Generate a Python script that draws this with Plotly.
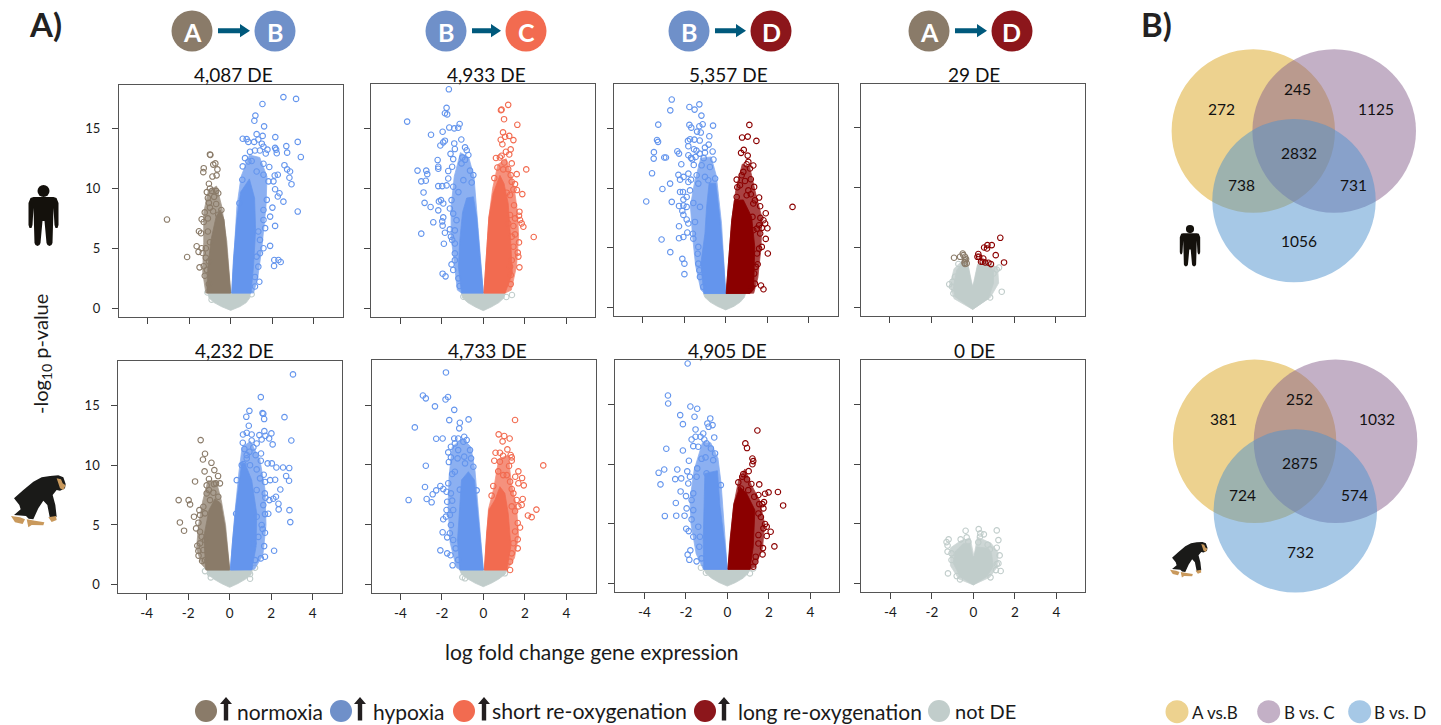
import plotly.graph_objects as go

# ---------- chart values (log fold change, -log10 p) ----------
h_ab_left = [(-3.07,7.4),(-2.1,4.27),(-1.64,5.17),(-1.53,6.42),(-1.43,6.26),(-1.4,7.43),(-1.32,11.37),(-1.3,11.7),(-1.0,12.85),(-.98,12.8),(-.74,12.1),(-.84,12.0),(-.64,11.6),(-.68,11.1),(-.88,11.0),(-1.05,10.4),(-1.0,10.0),(-1.15,9.7),(-.9,9.8),(-.7,9.8),(-.6,9.6),(-1.1,9.2),(-.8,9.3),(-1.05,8.8),(-.7,8.7),(-1.25,8.0),(-1.0,8.4),(-.85,8.1),(-.45,8.2),(-.6,7.8),(-1.3,7.2),(-1.1,7.5),(-1.4,5.0),(-1.55,4.7),(-1.35,4.6),(-1.5,3.4),(-1.3,3.5),(-1.2,4.2),(-1.25,2.7),(-1.05,2.0),(-1.15,3.2),(-1.0,5.5),(-1.1,6.4),(-1.2,5.0),(-1.05,3.9)]
h_ab_left_core = [(0,1.25),(-.19,5.1),(-.32,7.4),(-.51,8.2),(-.7,7.65),(-.95,5.7),(-1.1,3.46),(-1.15,1.25)]
h_ab_left_halo = [(0,1.25),(-.19,5.6),(-.43,8.5),(-.68,10.2),(-1.08,9.8),(-1.3,8),(-1.3,5.5),(-1.35,3),(-1.2,1.25)]
h_ab_right = [(2.54,17.65),(3.15,17.5),(1.53,17.07),(1.19,16.1),(1.14,15.67),(1.61,15.2),(1.25,14.55),(1.54,14.4),(2.15,14.3),(.58,14.16),(.77,14.13),(.85,13.9),(1.13,13.9),(1.33,14.1),(3.23,13.9),(2.68,13.55),(2.14,13.4),(2.19,13.25),(1.58,13.5),(1.5,13.75),(1.77,13.25),(2.72,13.0),(3.38,12.63),(2.22,12.95),(1.69,12.93),(.93,13.07),(1.17,13.18),(1.41,13.18),(.69,12.54),(.85,12.26),(1.01,12.3),(.58,11.85),(1.58,12.07),(1.86,11.8),(2.59,11.95),(2.72,11.6),(2.86,11.42),(2.83,10.9),(2.93,10.36),(2.12,11.09),(2.27,11.15),(2.06,10.6),(1.82,10.6),(1.58,11.15),(1.25,11.42),(.56,10.73),(2.14,9.94),(2.35,9.6),(2.27,9.33),(2.54,8.9),(3.23,8.07),(2.01,8.4),(1.9,7.65),(2.14,6.87),(1.66,6.68),(1.9,5.2),(2.1,4.02),(2.3,4.02),(2.41,3.85),(2.09,3.52),(1.38,2.2),(1.17,1.8),(1.33,3.46),(1.41,4.58),(1.58,5),(1.41,5.7),(1.33,6.4),(1.58,7.37),(1.58,8.2),(1.74,9.05),(1.25,4.3),(1.17,2.6),(.42,8.77)]
h_ab_right_core = [(.05,1.25),(.13,4),(.3,7.5),(.48,9.7),(.9,10.8),(1.15,9.2),(1.2,6.5),(1.1,3.5),(.98,1.25)]
h_ab_right_halo = [(.05,1.25),(.3,8.5),(.5,11),(.9,12.8),(1.4,12.6),(1.75,11),(1.7,8.5),(1.5,5),(1.3,2.5),(1.1,1.25)]
h_ab_grey = [(-1.12,1.3),(-.92,.7),(1.01,1.15)]
h_ab_grey_core = [(-1.1,1.3),(-1.05,.85),(-.8,.45),(-.45,.12),(0,-.2),(.45,.12),(.75,.45),(.92,.85),(.95,1.3)]

h_bc_left = [(-1.66,18.3),(-3.67,15.6),(-1.77,16.75),(-1.85,16.3),(-1.74,16.2),(-1.64,15.1),(-1.4,15.03),(-1.21,15.08),(-1.14,15.4),(-2.52,14.5),(-1.96,14.75),(-1.85,14.0),(-1.93,13.86),(-2.07,13.6),(-1.4,13.77),(-1.06,14.1),(-1.37,13.3),(-.88,13.44),(-.8,13.2),(-1.58,12.9),(-1.45,12.46),(-1.01,12.6),(-.72,12.8),(-2.2,12.38),(-2.17,11.82),(-2.17,11.65),(-3.17,11.5),(-2.75,11.5),(-2.7,11.2),(-2.99,10.6),(-2.77,10.65),(-1.69,11.46),(-1.5,11.82),(-1.69,10.84),(-2.17,10.2),(-1.98,10.2),(-1.77,10.26),(-2.88,9.67),(-2.83,8.8),(-2.54,8.45),(-2.14,8.92),(-2.04,9.03),(-1.93,8.75),(-2.17,8.17),(-2.41,7.17),(-1.93,7.58),(-1.98,7.25),(-1.96,6.89),(-2.99,6.22),(-1.85,6.3),(-1.61,6.58),(-1.56,5.97),(-1.9,5.38),(-1.37,5.4),(-1.37,4.57),(-1.37,4.0),(-1.53,3.65),(-1.45,3.18),(-1.96,2.87),(-1.82,2.65),(-1.2,2.48),(-1.14,1.84),(-.88,12.4),(-.48,11.12),(-.56,10.5),(-.64,11.5),(-1.45,10.15),(-1.2,9.7),(-1.53,9.03),(-1.45,7.9),(-1.29,7.35),(-1.61,8.33),(-1.05,12.1),(-.96,10.7),(-1.37,6.5),(-1.5,5.7)]
h_bc_left_core = [(0,1.25),(-1.05,1.25),(-1.2,3.45),(-1.13,5.7),(-1,8),(-.8,9.2),(-.48,9.3),(-.32,7.6),(-.16,4.3)]
h_bc_left_halo = [(0,1.25),(-.3,7.6),(-.45,11),(-.7,12.6),(-1.1,13),(-1.4,11),(-1.55,8.5),(-1.55,6),(-1.4,3.5),(-1.25,1.5),(-1.05,1.25)]
h_bc_right = [(1.2,17.0),(.88,16.6),(.85,16.55),(1.0,15.8),(1.64,15.33),(.95,14.7),(1.05,14.33),(1.25,14.4),(.84,14.08),(1.45,14.05),(.92,13.7),(1.32,13.27),(1.09,13.07),(1.25,12.85),(.88,12.74),(.61,12.55),(.8,12.6),(1.01,12.18),(1.37,12.1),(.68,11.76),(.96,11.6),(1.2,11.62),(2.07,11.6),(1.61,11.2),(1.32,11.12),(.53,10.87),(1.37,10.56),(1.53,10.37),(1.45,9.92),(1.62,9.87),(1.88,9.53),(1.13,9.65),(1.29,9.45),(1.48,8.6),(1.74,8.06),(1.72,7.72),(1.29,7.78),(1.53,7.5),(1.77,7.36),(1.85,7.08),(1.93,6.8),(1.45,6.86),(1.2,7.08),(2.43,5.94),(1.53,6.16),(1.72,5.49),(1.37,5.97),(1.45,5.13),(1.66,4.63),(1.69,4.3),(1.74,3.4),(1.37,4),(1.32,2.76),(1.32,2.0),(1.29,3.46)]
h_bc_right_core = [(.03,1.25),(.16,4.6),(.27,7.6),(.48,9.6),(.8,11.1),(1.0,10.4),(1.2,8.75),(1.3,6.25),(1.4,2.9),(1.05,1.25)]
h_bc_right_halo = [(.03,1.25),(.27,7.6),(.45,10),(.7,12),(1.1,12.5),(1.45,10.5),(1.65,8),(1.7,6),(1.6,3.5),(1.35,1.5),(1.05,1.25)]
h_bc_grey = [(-.96,.95),(1.38,1.09),(1.11,.92)]
h_bc_grey_core = [(-1.05,1.3),(-1.0,.85),(-.75,.45),(-.4,.1),(0,-.22),(.4,.1),(.75,.45),(1.0,.85),(1.05,1.3)]

h_bd_left = [(-2.6,17.4),(-1.27,17.0),(-1.75,16.78),(-1.5,16.56),(-2.67,16.5),(-1.17,16.06),(-3.25,15.3),(-1.75,15.28),(-1.66,15.05),(-1.27,15.17),(-1.11,15.33),(-.61,15.22),(-1.38,14.72),(-1.2,14.64),(-.79,14.33),(-3.31,14.02),(-3.26,13.86),(-1.82,13.94),(-1.72,14.08),(-1.51,14.05),(-1.25,13.97),(-1.8,13.5),(-.82,13.63),(-1,13.38),(-2.33,13.07),(-2.25,12.88),(-3.46,13),(-3.47,12.46),(-2.96,12.55),(-2.88,12.55),(-1.53,13.24),(-1.41,13.13),(-1.25,12.88),(-1,12.96),(-.63,13.05),(-1.8,12.74),(-1.67,12.52),(-1.61,12.4),(-1.45,12.6),(-1.06,12.5),(-.59,12.38),(-2.14,11.99),(-1.54,11.93),(-3.55,11.23),(-2.28,11.1),(-2.03,10.93),(-2.2,10.7),(-1.8,11.2),(-1.4,11.07),(-2.68,10.37),(-3.05,9.92),(-2.2,9.67),(-2.06,9.67),(-1.8,10.5),(-1.67,10.7),(-1.72,9.8),(-1.88,9.25),(-2.04,9.03),(-3.83,8.87),(-2.6,8.84),(-2.25,8.5),(-2.04,8.53),(-1.88,8.42),(-2.09,8.08),(-2.04,7.75),(-1.88,7.36),(-1.8,7.03),(-2.25,6.8),(-3.09,5.69),(-2.25,5.8),(-2.04,5.9),(-1.85,6.27),(-1.58,6.17),(-1.56,5.76),(-2.67,4.63),(-2.09,4.07),(-1.99,3.67),(-1.99,2.79),(-1.32,3.67),(-1.27,3.12),(-1.35,4.5),(-1.24,2.56),(-1.08,1.73),(-1.32,5.07),(-1.48,7.16),(-1.24,8.42),(-1.56,8.75),(-1.16,11.9),(-.76,11.76),(-1,10.93),(-1.32,10.37),(-.84,10.65),(-.51,10.79)]
h_bd_left_core = [(0,1.17),(-1.05,1.17),(-1.2,3.67),(-1,6.19),(-.92,8.42),(-.8,10.4),(-.48,10.4),(-.27,7.3),(-.11,3.96)]
h_bd_left_halo = [(0,1.17),(-.2,7),(-.45,11),(-.7,12.6),(-1.2,12.5),(-1.5,10.5),(-1.7,8.5),(-1.6,6),(-1.45,3.5),(-1.2,1.5),(-1.03,1.17)]
h_bd_right = [(1.14,15.28),(.79,14.22),(1.06,14.3),(1.48,13.94),(.87,13.19),(.74,12.94),(1.06,12.71),(1.09,12.18),(1.01,11.99),(1.33,11.88),(1.17,11.63),(.85,11.35),(.77,11.07),(1.21,10.73),(.53,10.7),(.93,10.59),(.69,10.23),(.56,10.06),(1.37,10.09),(1.09,9.8),(1.21,9.48),(1.01,9.39),(1.61,9.2),(1.41,8.97),(.53,9.25),(1.66,8.47),(1.33,8.7),(3.22,8.42),(1.93,7.89),(1.67,7.5),(1.82,7.3),(1.9,7.03),(1.29,7.58),(1.61,6.88),(1.74,6.66),(2.01,6.63),(1.5,6.6),(1.66,6.19),(1.33,6.47),(1.93,5.74),(1.74,5.07),(1.61,4.93),(2.03,4.52),(1.51,4.52),(1.45,3.4),(1.54,3.62),(1.41,2.0),(1.7,1.84),(1.82,1.53),(1.25,1.73),(1.37,2.84),(1.13,1.45)]
h_bd_right_core = [(.02,1.17),(.16,4.5),(.29,7.3),(.42,8.97),(.85,9),(1.25,7.58),(1.4,5.07),(1.35,1.5),(1.15,1.17)]
h_bd_right_halo = [(.02,1.17),(.29,7.3),(.5,10),(.8,12),(1.15,11.8),(1.45,9.5),(1.75,7.5),(1.7,5),(1.55,2.5),(1.35,1.2)]
h_bd_grey_core = [(-1.08,1.2),(-1.0,.85),(-.75,.45),(-.4,.1),(0,-.2),(.4,.1),(.7,.45),(.9,.85),(.96,1.2)]

h_ad_left = [(-.37,3.9),(-.48,4.48),(-.9,4.12),(-.61,4.2),(-.45,4.34),(-.37,4.2),(-.32,4.0),(-.4,3.7),(-.29,3.65),(-.37,3.6)]
h_ad_right = [(1.33,5.79),(.92,5.18),(.71,5.18),(.55,4.98),(.69,4.9),(1.11,4.34),(.27,4.43),(.23,4.2),(.31,4.2),(.51,4.06),(1.51,3.73),(.4,3.79),(.48,3.79),(.6,3.73),(.76,3.7),(.88,3.59)]
h_ad_grey = [(-1.13,1.9),(-1,1.7),(-.93,1.14),(1.4,1.28),(1.27,3.3),(1.16,3.14),(1,2.8),(.84,.8),(-.98,2.1),(-.85,2.53),(-.69,3.6)]
h_ad_grey_core = [(0,-.2),(.76,.72),(1,1.98),(1,3.09),(.51,3.65),(.24,3.5),(.08,2.1),(0,1.7),(-.08,2.1),(-.21,3.37),(-.5,3.65),(-.77,3.09),(-.93,1.7),(-.85,.86)]
h_ad_grey_halo = [(0,-.2),(.85,.8),(1.25,2),(1.2,3.3),(.6,3.8),(.24,3.6),(0,1.7),(-.24,3.6),(-.55,3.8),(-.9,3.2),(-1.1,1.8),(-.9,.7)]

c_ab_left = [(-1.4,12.1),(-1.19,10.96),(-1.29,10.48),(-.88,10.2),(-1.21,9.48),(-.74,9.59),(-1.67,8.64),(-.56,9.09),(-1,8.84),(-1.11,8.31),(-.66,8.48),(-.47,8.48),(-.76,8.42),(-1,7.92),(-.79,7.7),(-1.11,7.64),(-.55,7.36),(-2.46,7.08),(-1.98,7.08),(-1.91,6.72),(-1.27,6.52),(-1.46,6.24),(-1.72,5.69),(-1.43,5.83),(-1.19,5.97),(-2.4,5.21),(-2.2,4.52),(-1.51,5.19),(-1.62,4.71),(-1.43,4.43),(-1.35,4.01),(-1.56,3.26),(-1.51,2.82),(-1.5,2.43),(-1.33,1.98),(-1.19,2.06),(-1.27,2.9),(-1.19,3.74),(-1.43,3.46),(-.95,7.08)]
c_ab_left_core = [(0,1.23),(-1.15,1.23),(-1.25,4),(-1,6.24),(-.71,7.2),(-.43,6.8),(-.23,4.85),(-.06,2.34)]
c_ab_left_halo = [(0,1.23),(-.2,5),(-.4,7),(-.65,8.7),(-1.05,8.7),(-1.3,7),(-1.5,5),(-1.6,3),(-1.35,1.7),(-1.1,1.23)]
c_ab_right = [(3.05,17.6),(1.5,15.7),(.95,14.55),(1.58,14.36),(1.62,14.3),(1.66,13.86),(.8,14.05),(2.64,14.02),(.92,13.3),(1.67,12.85),(2.01,12.66),(.82,12.71),(.64,12.57),(1.06,12.57),(1.43,12.52),(1.72,12.46),(1.9,12.24),(1.54,12.15),(2.97,12.07),(1.06,12.07),(2.07,11.74),(.63,11.88),(1.3,11.82),(1.14,11.49),(.71,11.35),(.95,11.12),(1.51,10.98),(.82,10.84),(1.25,10.84),(1.5,10.37),(.82,10.57),(1.83,10.15),(2.03,10.15),(.98,10),(2.57,9.81),(2.87,9.76),(2.25,9.81),(1.3,9.65),(2.72,9.09),(2.86,8.7),(1.64,9.2),(1.95,8.75),(2.19,8.78),(1.7,8.6),(1.46,8.9),(2.44,7.97),(1.3,7.92),(1.69,7.64),(2.23,7.36),(2.1,7.19),(1.91,7.08),(1.72,7.28),(2.35,6.77),(2.36,6.3),(2.88,6.24),(1.62,6.66),(1.86,5.94),(1.7,5.91),(2.92,5.24),(1.54,4.99),(1.3,5.69),(1.7,4.35),(1.59,4.66),(1.38,4),(2.14,2.84),(1.7,2.34),(1.5,2.2),(1.66,3.23),(1.14,3.46),(1.22,2.06),(.31,5.94),(.34,8.75),(.58,10),(.66,10.09)]
c_ab_right_core = [(.03,1.23),(.14,3.74),(.3,6.52),(.47,9.03),(.58,10.15),(.74,10.15),(1.06,8.75),(1.3,5.97),(1.27,3.18),(1.06,1.23)]
c_ab_right_halo = [(.03,1.23),(.25,6),(.45,9.5),(.6,11.5),(1.0,12),(1.45,10.5),(1.7,8),(1.75,5),(1.6,2.5),(1.2,1.3)]
c_ab_grey = [(-1.19,1.14),(-.95,.95),(-.91,.61),(.98,.89),(.98,.5),(1.22,1.42)]
c_ab_grey_core = [(-1.1,1.25),(-1.03,.85),(-.75,.45),(-.4,.1),(0,-.22),(.4,.1),(.75,.45),(1.03,.85),(1.1,1.25)]

c_bc_left = [(-1.8,17.73),(-2.91,15.8),(-2.77,15.56),(-1.7,15.67),(-1.82,15.47),(-2.33,14.89),(-1.4,14.6),(-1.64,13.74),(-.71,13.8),(-1.13,13.52),(-3.3,13.13),(-1.16,13.05),(-2.27,12.18),(-1.96,12.2),(-1.4,12.2),(-1.21,12.2),(-.92,12.35),(-.8,12.07),(-1.56,11.51),(-1.37,11.79),(-.96,11.93),(-1.69,11.04),(-1.21,11.23),(-.64,11.23),(-1.56,10.62),(-.92,10.68),(-1.66,10.23),(-1.24,10.54),(-2.77,9.92),(-.59,10.54),(-.88,10.12),(-1.37,9.42),(-1.5,9.23),(-.48,9.84),(-1.69,8.45),(-2.81,8.14),(-2.07,8.22),(-1.93,7.97),(-2.27,7.86),(-2.44,7.53),(-1.77,7.75),(-1.56,7.61),(-3.6,7.05),(-2.73,7.14),(-2.49,6.86),(-1.74,6.91),(-1.5,7),(-1.77,6.22),(-1.45,6.22),(-1.8,5.66),(-1.93,5.44),(-1.61,5.8),(-1.56,4.96),(-1.96,4.35),(-1.74,3.93),(-1.61,4.27),(-1.45,3.71),(-2.07,2.84),(-1.74,2.59),(-1.58,2.43),(-1.33,3.01),(-1.21,2.04),(-1.48,1.59),(-.32,7.86),(-1.13,7.92)]
c_bc_left_core = [(0,1.2),(-1.13,1.2),(-1.24,3.71),(-1.13,6.5),(-1.05,8.73),(-.72,9.42),(-.43,8.73),(-.27,5.94),(-.08,2.6)]
c_bc_left_halo = [(0,1.2),(-.25,6.5),(-.4,9.5),(-.6,11.5),(-1.0,12.2),(-1.5,11.5),(-1.65,9),(-1.7,6.5),(-1.6,3.5),(-1.3,1.4),(-1.1,1.2)]
c_bc_right = [(1.53,13.75),(.74,12.55),(1.01,12.41),(1.27,12.2),(.93,11.96),(1.16,11.29),(.59,11.01),(.8,11.01),(.95,10.76),(1.32,10.82),(1.37,10.62),(.53,10.34),(.8,10.26),(1.37,10.34),(2.89,9.95),(1.24,9.9),(1.69,9.45),(.72,9.45),(.96,9.14),(1.54,9),(1.87,8.89),(1.13,9.14),(1.69,8.45),(1.95,8.28),(.48,8.22),(1.29,8.59),(1.37,7.97),(.4,7.42),(1.45,7.61),(1.9,7.14),(1.61,7.05),(1.85,6.64),(1.69,6.52),(2.56,6.25),(2.15,5.76),(2.33,5.62),(1.37,6.52),(1.53,6.11),(1.66,5.13),(1.77,4.75),(1.53,4.42),(1.66,3.76),(1.45,3.44),(1.66,3.01),(1.37,2.59),(1.29,1.9),(1.29,1.2)]
c_bc_right_core = [(.05,1.2),(.16,4.27),(.27,6.22),(.56,7.05),(.8,8.17),(1.04,7.61),(1.2,5.94),(1.33,3.18),(1.13,1.2)]
c_bc_right_halo = [(.05,1.2),(.25,6.3),(.5,8),(.75,10.5),(1.2,10.8),(1.35,8.5),(1.6,6.5),(1.7,4),(1.5,2.2),(1.15,1.2)]
c_bc_grey = [(-1.01,.59),(-.88,.5),(1.04,.92)]
c_bc_grey_core = [(-1.15,1.25),(-1.05,.85),(-.75,.45),(-.4,.1),(0,-.2),(.4,.1),(.75,.45),(1.05,.85),(1.15,1.25)]

c_bd_left = [(-1.91,18.43),(-2.86,15.75),(-2.85,15.08),(-1.78,14.83),(-1.45,14.64),(-2.27,14.11),(-1.58,13.97),(-.82,13.83),(-.96,13.41),(-.71,13.27),(-.9,13.13),(-2.14,13.35),(-1.53,12.91),(-1.16,12.57),(-1.29,12.3),(-1.53,12.3),(-.63,12.24),(-1.72,12.07),(-1.11,12.07),(-1,11.74),(-1.64,11.51),(-1.4,11.46),(-2.94,11.29),(-2.14,11.15),(-.79,11.32),(-.59,10.9),(-1.05,10.57),(-1.85,10.29),(-1.24,10.45),(-.68,10.34),(-1.45,9.65),(-2.41,9.56),(-3.04,9.56),(-3.31,9.28),(-1.93,9.4),(-2.51,8.75),(-2.22,8.81),(-3.22,8.31),(-1.8,8.95),(-1.48,8.95),(-1.88,8.39),(-2.25,7.72),(-1.99,7.33),(-1.64,7.56),(-2.48,6.75),(-1.72,7),(-1.96,6.3),(-1.64,6.16),(-3.01,5.66),(-2.46,5.69),(-2.06,5.69),(-1.72,5.38),(-1.98,4.6),(-1.86,4.4),(-1.64,3.93),(-1.4,4.77),(-1.78,2.79),(-1.91,2.43),(-1.83,2.0),(-1.48,1.87),(-1.35,3.09),(-1.24,2.12),(-1.32,3.93),(-1,9.23),(-.31,8.25)]
c_bd_left_core = [(0,1.2),(-1.13,1.2),(-1.16,3.65),(-1.13,6.44),(-1.08,9.23),(-.48,9.45),(-.35,6.44),(-.11,3.09)]
c_bd_left_halo = [(0,1.2),(-.3,8.4),(-.45,10.5),(-.8,11.8),(-1.2,11.8),(-1.6,9.5),(-1.8,7),(-1.75,5),(-1.5,2.5),(-1.15,1.2)]
c_bd_right = [(1.45,12.82),(.87,11.74),(.95,11.35),(1.21,10.48),(1.25,10.26),(1.21,10),(1.03,9.42),(.77,9.17),(.72,8.95),(.95,8.73),(.53,8.48),(1.16,8.34),(1.54,8.31),(.66,7.97),(2.44,7.67),(1.99,7.64),(1.82,7.53),(1.3,7.28),(1.01,7.83),(1.5,7.42),(2.69,6.55),(1.77,6.83),(1.69,6.66),(1.54,6.66),(1.74,6.3),(1.62,5.58),(1.5,5.88),(1.82,4.99),(1.9,4.77),(2.09,4.35),(1.74,4.63),(1.9,3.99),(1.5,4.07),(2.27,3.12),(1.72,2.98),(1.7,2.45),(1.37,2.26),(1.5,3.37),(1.35,1.84),(1.25,1.42)]
c_bd_right_core = [(.03,1.2),(.13,3.65),(.32,6.72),(.61,8.11),(.93,7.56),(1.33,6.16),(1.25,3.09),(1.09,1.2)]
c_bd_right_halo = [(.03,1.2),(.3,6.5),(.55,8.7),(.85,9.6),(1.15,8.3),(1.55,7),(1.8,5),(1.7,3),(1.35,1.4),(1.1,1.2)]
c_bd_grey = [(-1.27,1.34),(-1.03,.92),(1.09,.86),(1.25,1.28)]
c_bd_grey_core = [(-1.13,1.25),(-1.03,.85),(-.75,.45),(-.4,.1),(0,-.2),(.4,.1),(.75,.45),(1.0,.85),(1.1,1.25)]

c_ad_grey = [(.26,4.57),(-.37,4.43),(1.13,4.46),(.34,4.21),(.51,4.13),(.32,3.93),(-1.19,3.71),(-1.29,3.48),(-.61,3.71),(-.32,3.88),(-.24,3.51),(1.21,3.65),(.24,3.46),(.69,3.26),(-1.24,3.2),(1.13,3.01),(-1.24,2.68),(-1.05,2.54),(1.27,2.37),(.8,2.87),(-1.05,1.98),(1.13,1.65),(1.21,1.7),(-1.22,.86),(1.32,1.06),(1.09,1.14),(-.8,.64),(.83,.53),(-.64,.36)]
c_ad_grey_core = [(0,-.1),(.64,.59),(.96,1.42),(.88,2.54),(.72,2.96),(.16,3.09),(.03,2.26),(-.03,2.26),(-.16,3.37),(-.48,3.37),(-.88,2.68),(-.96,1.7),(-.64,.59)]
c_ad_grey_halo = [(0,-.1),(.8,.55),(1.15,1.4),(1.2,2.6),(.85,3.4),(.2,3.9),(.03,2.3),(-.15,3.8),(-.6,3.6),(-1.1,3),(-1.1,1.5),(-.7,.4)]

x_ticks = [-4, -2, 0, 2, 4]
x_tick_labels = ["-4", "-2", "0", "2", "4"]
y_ticks = [0, 5, 10, 15]
panel_titles = ["4,087 DE", "4,933 DE", "5,357 DE", "29 DE", "4,232 DE", "4,733 DE", "4,905 DE", "0 DE"]
legend_labels = ["normoxia", "hypoxia", "short re-oxygenation", "long re-oxygenation", "not DE"]
venn_labels = ["A vs.B", "B vs. C", "B vs. D"]
human_venn = [272, 245, 1125, 2832, 738, 731, 1056]
chimp_venn = [381, 252, 1032, 2875, 724, 574, 732]

# ---------- styles ----------
BROWN, BLUE, ORANGE, RED, GREY = "#8A7B69", "#6495ED", "#F26B50", "#8B0000", "#C1CDCB"
C_BROWN, C_BLUE, C_ORANGE, C_RED = "#8A7B69", "#6F90C9", "#F26B50", "#8C161B"
FONT = "Lato"
W, H = 1441, 725

def X(p): return p / W
def Y(p): return 1 - p / H

# geometry: left, right, top, bottom, px of x=0, px of y=0, colours, then the drawn series
panels = [
 (119, 342.7, 84.5, 316.7, 230.7, 308, BROWN, BLUE, [], h_ab_grey_core, h_ab_left_halo, h_ab_right_halo, h_ab_left_core, h_ab_right_core, h_ab_grey, h_ab_left, h_ab_right),
 (371.3, 595.3, 84, 316.7, 483.3, 308, BLUE, ORANGE, [], h_bc_grey_core, h_bc_left_halo, h_bc_right_halo, h_bc_left_core, h_bc_right_core, h_bc_grey, h_bc_left, h_bc_right),
 (614, 837.7, 83.5, 316, 725.7, 307.5, BLUE, RED, [], h_bd_grey_core, h_bd_left_halo, h_bd_right_halo, h_bd_left_core, h_bd_right_core, [], h_bd_left, h_bd_right),
 (861, 1084.7, 83.5, 316, 972.7, 307, BROWN, RED, h_ad_grey_halo, h_ad_grey_core, [], [], [], [], h_ad_grey, h_ad_left, h_ad_right),
 (118.3, 342, 360.5, 593, 229.7, 584.7, BROWN, BLUE, [], c_ab_grey_core, c_ab_left_halo, c_ab_right_halo, c_ab_left_core, c_ab_right_core, c_ab_grey, c_ab_left, c_ab_right),
 (371.7, 595.7, 360.3, 592.7, 483.3, 584.3, BLUE, ORANGE, [], c_bc_grey_core, c_bc_left_halo, c_bc_right_halo, c_bc_left_core, c_bc_right_core, c_bc_grey, c_bc_left, c_bc_right),
 (615.3, 839.3, 360, 592, 727.3, 583.7, BLUE, RED, [], c_bd_grey_core, c_bd_left_halo, c_bd_right_halo, c_bd_left_core, c_bd_right_core, c_bd_grey, c_bd_left, c_bd_right),
 (861.3, 1085, 360, 592, 973.3, 583.7, BROWN, RED, c_ad_grey_halo, c_ad_grey_core, [], [], [], [], c_ad_grey, [], []),
]
PX_X, PX_Y = 20.75, 11.95

fig = go.Figure()
layout = dict(width=W, height=H, margin=dict(l=0, r=0, t=0, b=0), plot_bgcolor="white", paper_bgcolor="white",
              showlegend=False, font=dict(family=FONT, color="#1a1a1a"))
ann, shapes = [], []

def core(pts, color, ax, op=1.0):
    if pts:
        xs = [p[0] for p in pts] + [pts[0][0]]
        ys = [p[1] for p in pts] + [pts[0][1]]
        fig.add_trace(go.Scatter(x=xs, y=ys, mode="lines", fill="toself", fillcolor=color, opacity=op,
                                 line=dict(width=0.8, color=color), hoverinfo="skip", xaxis=ax[0], yaxis=ax[1]))

def dots(pts, color, ax):
    if pts:
        fig.add_trace(go.Scatter(x=[p[0] for p in pts], y=[p[1] for p in pts], mode="markers",
                                 marker=dict(symbol="circle-open", size=5.5, line=dict(width=1.1, color=color), color=color),
                                 xaxis=ax[0], yaxis=ax[1]))

def text(s, px, py, size, anchor="center", color="#1a1a1a", bold=False, angle=0):
    ann.append(dict(text=f"<b>{s}</b>" if bold else s, x=X(px), y=Y(py), xref="paper", yref="paper", showarrow=False,
                    xanchor=anchor, yanchor="middle", textangle=angle, font=dict(size=size, family=FONT, color=color)))

title_x = [233, 486, 728, 974, 234, 487, 727.7, 974]
for i, (l, r, t, b, x0, y0, cl, cr, gh, gc, lh, rh, lc, rc, gp, lp, rp) in enumerate(panels):
    n = "" if i == 0 else str(i + 1)
    ax = ("x" + n, "y" + n)
    layout["xaxis" + n] = dict(domain=[X(l), X(r)], range=[(l - x0) / PX_X, (r - x0) / PX_X], anchor=ax[1],
        tickvals=x_ticks, ticktext=x_tick_labels, showticklabels=i >= 4, ticks="outside", ticklen=6, tickwidth=1, tickcolor="#444",
        showline=True, mirror=True, linecolor="#555", linewidth=1, showgrid=False, zeroline=False,
        tickfont=dict(size=13.5, family=FONT, color="#1a1a1a"), ticklabelstandoff=2)
    layout["yaxis" + n] = dict(domain=[Y(b), Y(t)], range=[(y0 - b) / PX_Y, (y0 - t) / PX_Y], anchor=ax[0],
        tickvals=y_ticks, showticklabels=i % 4 == 0, ticks="outside", ticklen=6, tickwidth=1, tickcolor="#444",
        showline=True, mirror=True, linecolor="#555", linewidth=1, showgrid=False, zeroline=False,
        tickfont=dict(size=13, family=FONT, color="#1a1a1a"), ticklabelstandoff=9)
    dots(gp, GREY, ax)
    core(gh, GREY, ax, 0.8)
    core(gc, GREY, ax)
    core(lh, cl, ax, 0.74)
    core(rh, cr, ax, 0.74)
    core(lc, cl, ax)
    core(rc, cr, ax)
    dots(lp, cl, ax)
    dots(rp, cr, ax)
    text(panel_titles[i], title_x[i], 74.5 if i < 4 else 350.5, 19, color="#111")

def disc(cx, cy, rad, color, op=1):
    shapes.append(dict(type="circle", xref="paper", yref="paper", x0=X(cx - rad), x1=X(cx + rad), y0=Y(cy + rad), y1=Y(cy - rad),
                       fillcolor=color, opacity=op, line=dict(width=0), layer="below"))

def poly(pts, color):
    d = "M" + " L".join(f"{X(a):.5f},{Y(b):.5f}" for a, b in pts) + " Z"
    shapes.append(dict(type="path", xref="paper", yref="paper", path=d, fillcolor=color, line=dict(width=0), layer="above"))

# header glyphs
TEAL = "#00597C"
for (a, ca, xa, b, cb, xb) in [("A", C_BROWN, 192, "B", C_BLUE, 275), ("B", C_BLUE, 446, "C", C_ORANGE, 526),
                               ("B", C_BLUE, 689, "D", C_RED, 771), ("A", C_BROWN, 929, "D", C_RED, 1012)]:
    disc(xa, 31, 20.5, ca); disc(xb, 31, 20.5, cb)
    text(a, xa, 31.5, 25, color="white", bold=True); text(b, xb, 31.5, 25, color="white", bold=True)
    s, tip = xa + 26, xb - 25
    poly([(s, 28.2), (tip - 10, 28.2), (tip - 10, 24), (tip, 30.7), (tip - 10, 37.3), (tip - 10, 33.2), (s, 33.2)], TEAL)

text("A)", 46, 24, 33, bold=True, color="#222")
text("B)", 1156, 24, 33, bold=True, color="#222")
text("-log<sub>10</sub> p-value", 41, 354, 20, angle=-90)
text("log fold change gene expression", 592, 651, 21)

# icons
def human(cx, top, k):
    disc(cx, top + 6 * k, 6 * k, "#14110c")
    body = [(-10,12),(10,12),(13,13),(15,18),(15,40),(14,43),(12,43),(11,40),(10,23),(9,58),(8,60),(6,61),(4,60),(3,58),(1,36),(-1,36),(-3,58),(-4,60),(-6,61),(-8,60),(-9,58),(-10,23),(-11,40),(-12,43),(-14,43),(-15,40),(-15,18),(-13,13)]
    poly([(cx + a * k, top + b * k) for a, b in body], "#14110c")

def chimp(f):
    black = [(100,65),(125,52),(150,48),(175,46),(190,52),(197,72),(195,85),(180,92),(170,90),(158,105),(166,135),(170,170),(150,176),(142,135),(130,122),(115,145),(100,178),(86,176),(78,168),(42,165),(62,148),(58,135),(42,115),(70,90)]
    tan = [[(33,168),(60,172),(75,178),(68,192),(45,187)], [(80,178),(105,182),(133,187),(130,196),(95,195),(85,202)], [(145,172),(168,168),(170,180),(155,186)], [(170,55),(183,58),(188,70),(197,76),(190,90),(180,85)]]
    poly([f(a, b) for a, b in black], "#1a1a18")
    for t in tan:
        poly([f(a, b) for a, b in t], "#C9995C")

def chimp_big(a, b): return (a / 3, 460 + b / 3)
def chimp_small(a, b): return (1130 + (120 + (a - 33) * 0.685) / 3, 320 + (665 + (b - 45) * 0.685) / 3)

human(43.5, 185, 1)
human(1190, 225, 0.68)
chimp(chimp_big)
chimp(chimp_small)

# Venn diagrams
YEL, PUR, BLU = "rgb(237,210,143)", "rgb(135,97,141)", "rgb(77,145,205)"
for cy, offx, vals in [(131, 0, human_venn), (441.3, 1.3, chimp_venn)]:
    disc(1253.3 + offx, cy, 81.7, YEL)
    disc(1334.2 + offx, cy, 81.8, PUR, 0.5)
    disc(1294 + offx, cy + 69.6, 81.7, BLU, 0.5)
    pos = [(1221.7, -22), (1297.7, -42.3), (1375.7, -22), (1299, 22), (1241.3, 54), (1353.3, 54), (1299, 110.4)]
    for v, (px, dy) in zip(vals, pos):
        text(str(v), px + offx, cy + dy, 15.5, color="#111")

# legends
for cx, col, lab, tx, arrow, fs in [(206, C_BROWN, 0, 235, 226, 21), (341, C_BLUE, 1, 371, 360, 21), (464, C_ORANGE, 2, 490, 484, 21.3),
                                    (705, C_RED, 3, 736, 724, 21), (939, GREY, 4, 953, None, 20)]:
    disc(cx, 711, 11, col)
    if arrow:
        poly([(arrow - 2.2, 720.5), (arrow - 2.2, 704), (arrow - 6, 704), (arrow, 697), (arrow + 6, 704), (arrow + 2.2, 704), (arrow + 2.2, 720.5)], "#231f20")
    text(legend_labels[lab], tx, 711, fs, anchor="left", color="#1a1a1a")

for cx, tx, lab in [(1177, 1190, 0), (1268.7, 1282, 1), (1359.7, 1372, 2)]:
    disc(cx, 711.7, 11.5, [YEL, "rgb(195,176,198)", "rgb(166,200,230)"][lab])
    text(venn_labels[lab], tx, 712, 17, anchor="left", color="#1a1a1a")

layout["annotations"] = ann
layout["shapes"] = shapes
fig.update_layout(**layout)
fig.write_html("out.html", post_script="document.body.style.margin='0';", config={"displayModeBar": False})
